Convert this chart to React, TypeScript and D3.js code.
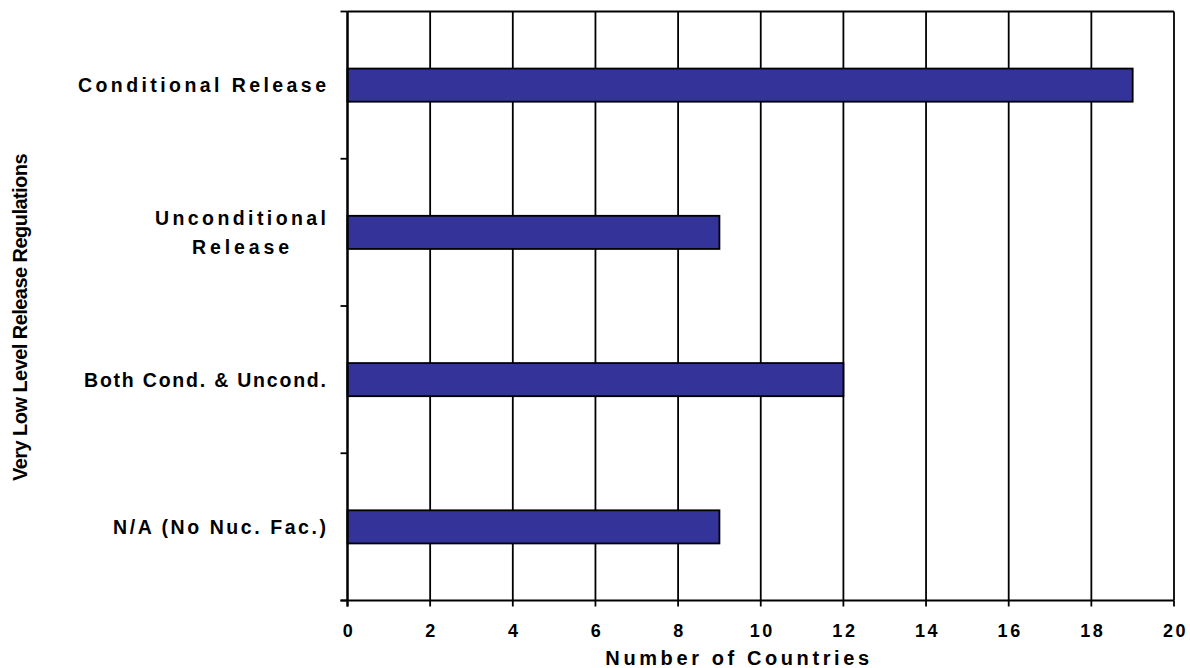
import React from "react";
import * as d3 from "d3";

const categories: string[][] = [
  ["Conditional Release"],
  ["Unconditional", "Release"],
  ["Both Cond. & Uncond."],
  ["N/A (No Nuc. Fac.)"],
];
const values: number[] = [19, 9, 12, 9];
const xTicks: number[] = [0, 2, 4, 6, 8, 10, 12, 14, 16, 18, 20];
const xTitle = "Number of Countries";
const yTitle = "Very Low Level Release Regulations";

// rendered widths of the spaced-out category label lines (style only)
const labelWidths: Record<string, number> = {
  "Conditional Release": 248,
  Unconditional: 171,
  Release: 97,
  "Both Cond. & Uncond.": 242,
  "N/A (No Nuc. Fac.)": 213,
};

const W = 1190;
const H = 668;
const left = 347.5;
const right = 1174;
const top = 11.5;
const bottom = 600.5;

export default function App() {
  const x = d3.scaleLinear().domain([0, 20]).range([left, right]);
  const keys = categories.map((_, i) => String(i));
  const y = d3
    .scaleBand<string>()
    .domain(keys)
    .range([top, bottom])
    .paddingInner(0.775)
    .paddingOuter(0.3875);
  const step = (bottom - top) / categories.length;
  const boundaries = d3.range(categories.length + 1).map((i) => top + i * step);
  const font = "'Liberation Sans', Arial, Helvetica, sans-serif";
  const labelRight = 326;

  return (
    <svg
      width={W}
      height={H}
      style={{ position: "absolute", left: 0, top: 0, background: "#fff" }}
      fontFamily={font}
    >
      <rect x={0} y={0} width={W} height={H} fill="#fff" />
      {xTicks.map((t) => (
        <line key={"g" + t} x1={x(t)} x2={x(t)} y1={top} y2={bottom} stroke="#000" strokeWidth={1.8} />
      ))}
      <line x1={left} x2={right} y1={top} y2={top} stroke="#000" strokeWidth={1.8} />
      {values.map((v, i) => (
        <rect
          key={"b" + i}
          x={x(0)}
          y={y(String(i))!}
          width={x(v) - x(0)}
          height={y.bandwidth()}
          fill="#333399"
          stroke="#000"
          strokeWidth={1.8}
        />
      ))}
      <line x1={left} x2={left} y1={top} y2={bottom + 6} stroke="#000" strokeWidth={2.2} />
      <line x1={left - 7} x2={right} y1={bottom} y2={bottom} stroke="#000" strokeWidth={2.2} />
      {boundaries.map((b, i) => (
        <line key={"yt" + i} x1={left - 7} x2={left} y1={b} y2={b} stroke="#000" strokeWidth={1.8} />
      ))}
      {xTicks.map((t) => (
        <line key={"xt" + t} x1={x(t)} x2={x(t)} y1={bottom} y2={bottom + 6} stroke="#000" strokeWidth={1.8} />
      ))}
      {xTicks.map((t) => (
        <text
          key={"xl" + t}
          x={x(t) + 1.5}
          y={637}
          textAnchor="middle"
          fontSize={18}
          fontWeight="bold"
          letterSpacing={2.6}
        >
          {t}
        </text>
      ))}
      {categories.map((lines, i) => {
        const cy = y(String(i))! + y.bandwidth() / 2;
        const lh = 28.5;
        const n = lines.length;
        const blockW = Math.max(...lines.map((l) => labelWidths[l] ?? 200));
        const centre = labelRight - blockW / 2;
        return (
          <g key={"c" + i}>
            {lines.map((l, j) => {
              const base = cy + 7 + (j - (n - 1) / 2) * lh;
              const w = labelWidths[l] ?? 200;
              return (
                <text
                  key={j}
                  x={centre - w / 2}
                  y={base}
                  fontSize={19.5}
                  fontWeight="bold"
                  textLength={w}
                  lengthAdjust="spacing"
                >
                  {l}
                </text>
              );
            })}
          </g>
        );
      })}
      <text x={739} y={665} textAnchor="middle" fontSize={20} fontWeight="bold" letterSpacing={3.6}>
        {xTitle}
      </text>
      <text
        transform={`translate(27,${(152 + 483) / 2}) rotate(-90)`}
        textAnchor="middle"
        fontSize={20}
        fontWeight="bold"
        letterSpacing={-0.55}
      >
        {yTitle}
      </text>
    </svg>
  );
}
